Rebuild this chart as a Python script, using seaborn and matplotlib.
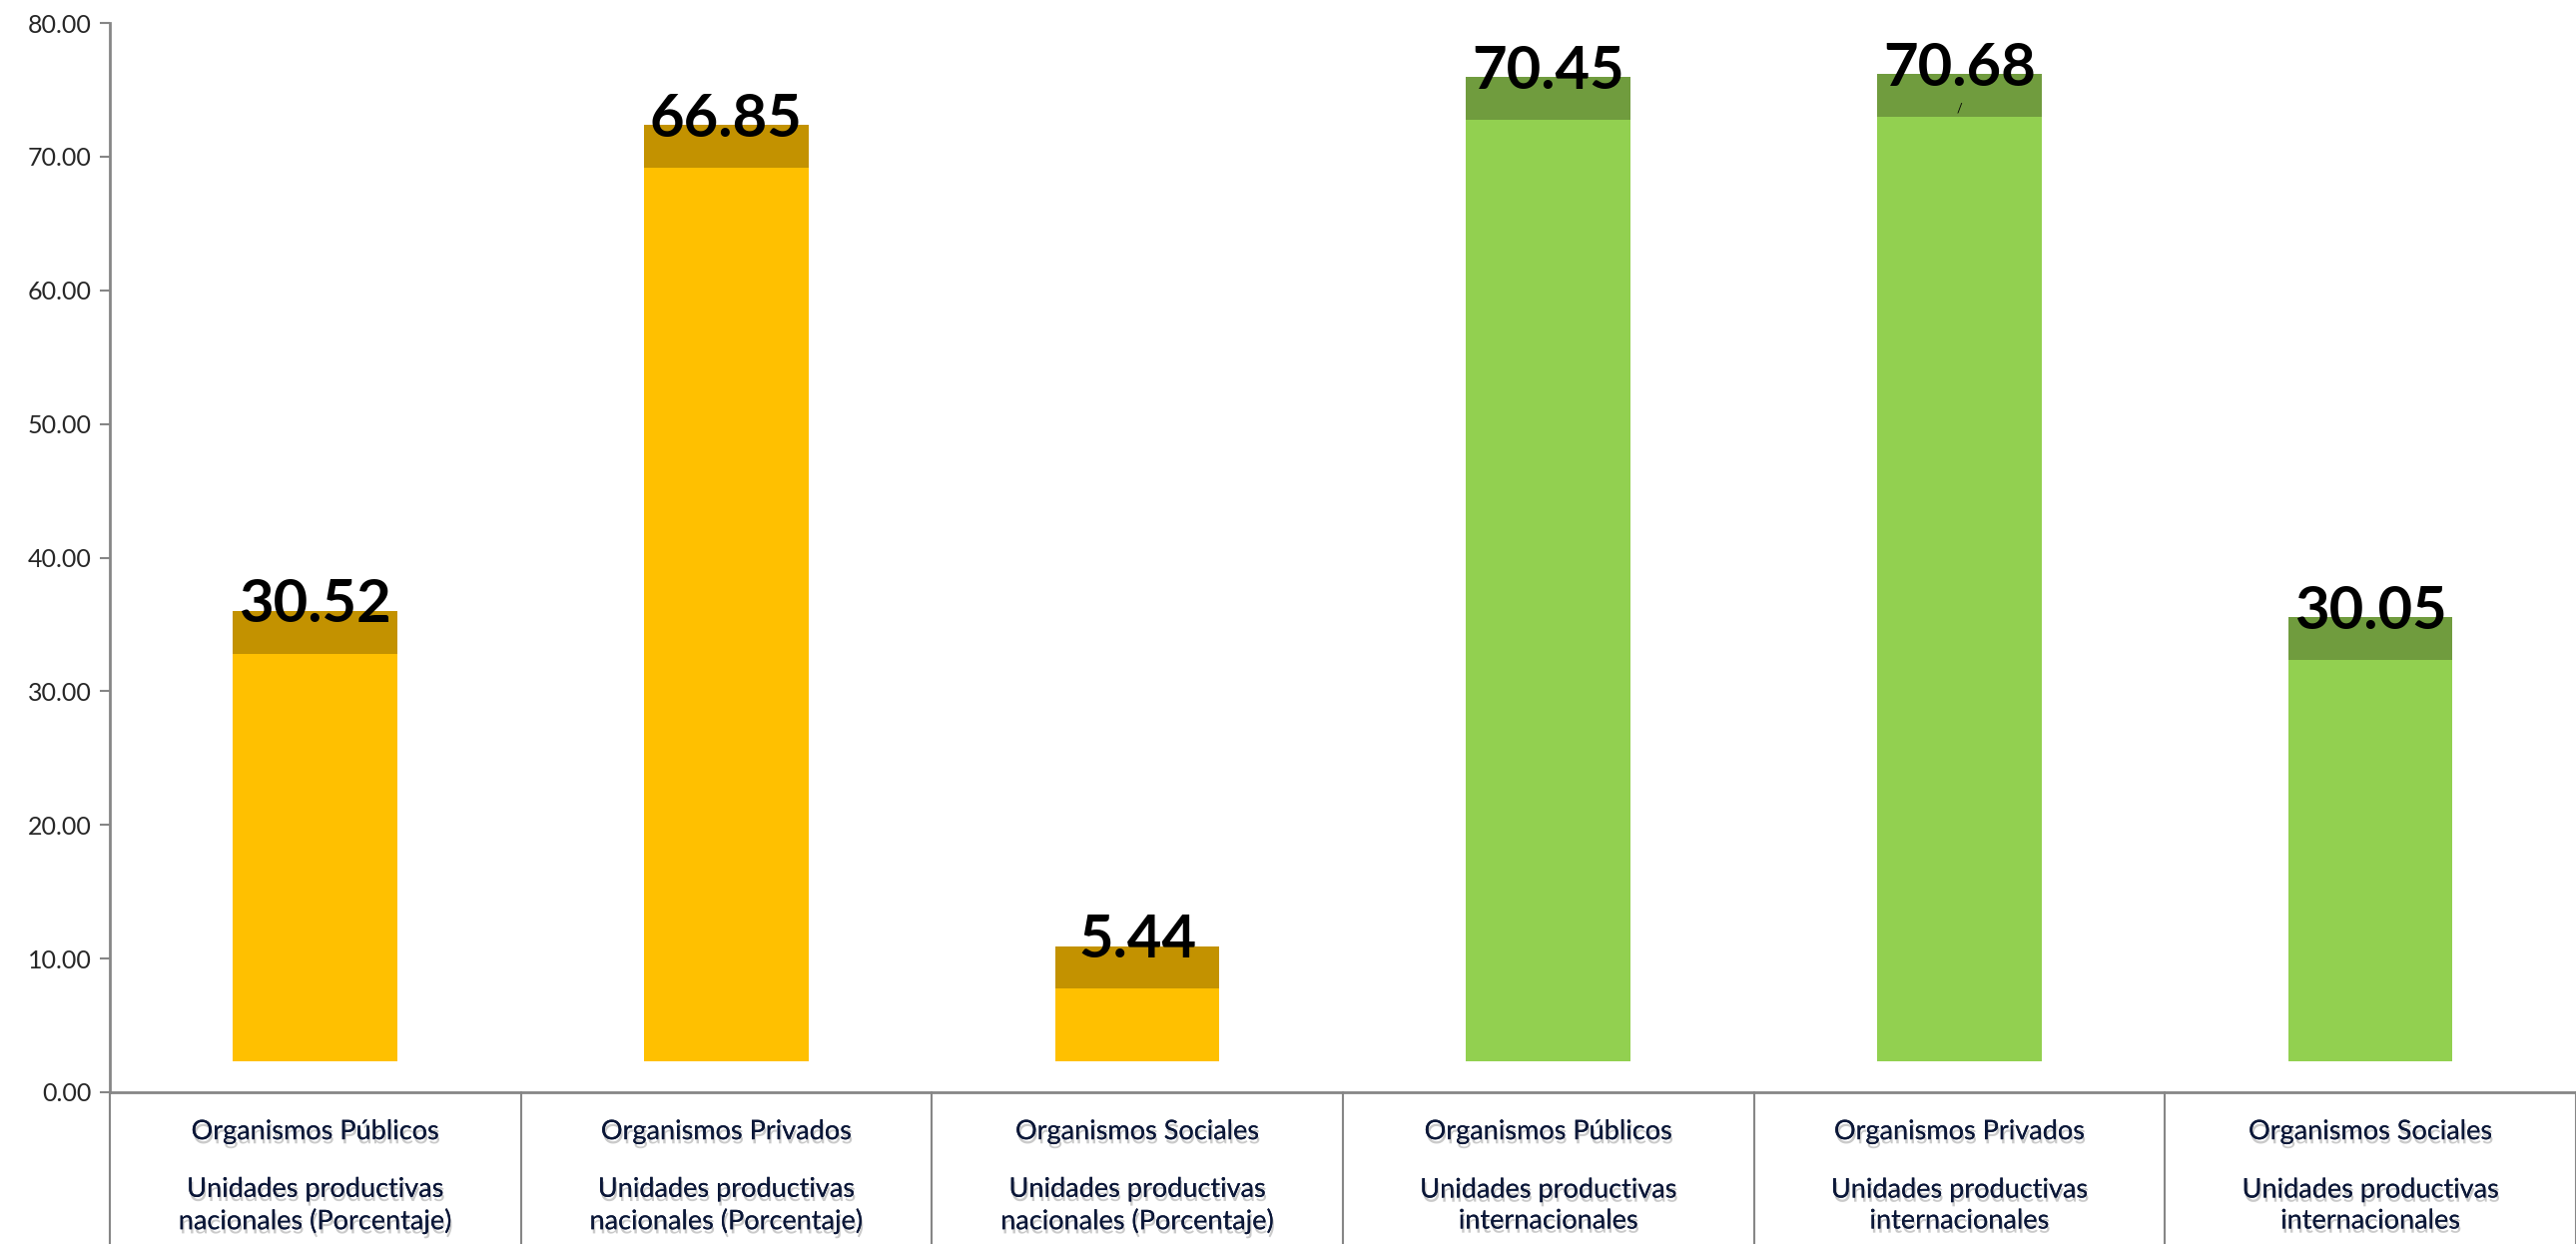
import numpy as np
import pandas as pd
import matplotlib
matplotlib.use("Agg")
import matplotlib.pyplot as plt
import matplotlib.patheffects as pe
import seaborn as sns

# data
groups = ["Organismos Públicos", "Organismos Privados", "Organismos Sociales",
          "Organismos Públicos", "Organismos Privados", "Organismos Sociales"]
units = ["Unidades productivas\nnacionales (Porcentaje)"] * 3 + \
        ["Unidades productivas\ninternacionales"] * 3
values = [30.52, 66.85, 5.44, 70.45, 70.68, 30.05]
face_colors = ["#FFC000"] * 3 + ["#92D050"] * 3
top_colors = ["#C39200"] * 3 + ["#709C3E"] * 3

df = pd.DataFrame({"id": [str(i) for i in range(6)], "value": values})

# 3D-look of the original column chart
lift = 2.3
cap = 3.2

sns.set_theme(style="white")
plt.rcParams["font.family"] = ["Lato", "DejaVu Sans"]

fig = plt.figure(figsize=(25.8, 12.46), dpi=100)
ax = fig.add_axes([0.0426, 0.122, 0.9574, 0.8595])

sns.barplot(data=df, x="id", y="value", hue="id", palette=face_colors,
            width=0.4, legend=False, ax=ax, saturation=1)
for p in ax.patches:
    p.set_y(p.get_y() + lift)
    p.set_linewidth(0)

x = np.arange(len(values))
ax.bar(x, cap, width=0.4, bottom=np.array(values) + lift,
       color=top_colors, linewidth=0)

for xi, v in zip(x, values):
    ax.text(xi, v + lift + cap + 0.4, f"{v:.2f}", ha="center", va="center",
            fontsize=43, fontweight="bold", color="black")

ax.text(4, 73.6, "/", ha="center", va="center", fontsize=9, color="black")

ax.set_xlim(-0.5, 5.5)
ax.set_ylim(0, 80)
ax.set_yticks(np.arange(0, 81, 10))
ax.set_yticklabels([f"{t:.2f}" for t in np.arange(0, 81, 10)], fontsize=18)
ax.set_xticks([])
ax.set_xlabel("")
ax.set_ylabel("")
ax.tick_params(axis="y", direction="out", length=7, width=1.5,
               color="#868686", left=True, pad=6)

for s in ["top", "right"]:
    ax.spines[s].set_visible(False)
for s in ["left", "bottom"]:
    ax.spines[s].set_color("#868686")
    ax.spines[s].set_linewidth(2)

trans = ax.get_xaxis_transform()
for k in range(7):
    ax.plot([k - 0.5, k - 0.5], [0, -0.15], transform=trans, color="#868686",
            lw=1.5, clip_on=False)

shadow = [pe.withSimplePatchShadow(offset=(1, -3), shadow_rgbFace="#8a8a8a",
                                   alpha=0.45), pe.Normal()]
for xi, g, u in zip(x, groups, units):
    ax.text(xi, -0.037, g, transform=trans, ha="center", va="center",
            fontsize=19.5, color="#0B1738", path_effects=shadow)
    ax.text(xi, -0.106, u, transform=trans, ha="center", va="center",
            fontsize=19.5, color="#0B1738", linespacing=1.3,
            path_effects=shadow)

fig.savefig("out.png", dpi=100)
